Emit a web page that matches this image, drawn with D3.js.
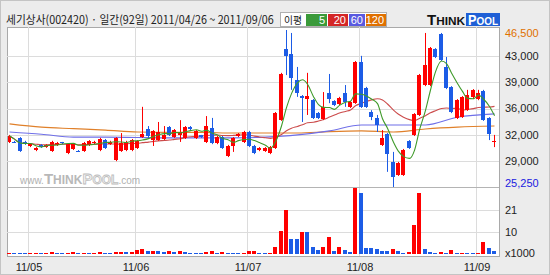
<!DOCTYPE html>
<html>
<head>
<meta charset="utf-8">
<script src="https://cdn.jsdelivr.net/npm/d3@7"></script>
<style>
html, body { margin: 0; padding: 0; background: #ececec; }
svg { display: block; font-family: "Liberation Sans", Arial, sans-serif; }
</style>
</head>
<body>
<svg id="chart" width="550" height="275"></svg>
<script>
var title = "세기상사(002420) · 일간(92일) 2011/04/26 ~ 2011/09/06";

// daily candles, 2011/04/26 .. 2011/09/06 (92 trading days)
var openP = [31350,31400,31900,31350,30800,30250,30950,30650,30100,30950,
    31300,29850,30400,30150,30100,30950,31150,30250,31600,31050,
    28900,30100,30250,30250,30550,32000,33100,31600,31600,31750,
    33350,32000,32300,31900,33350,31900,32250,31350,33250,31200,
    32000,29450,30800,32150,31350,32700,30800,30250,30100,29850,
    30550,34300,43950,43250,39750,37550,37150,37000,35250,34450,
    37950,36900,36500,37950,36100,36600,42150,38650,35400,34600,
    30950,32400,28650,26850,26850,31500,32300,35000,39050,39050,
    43950,45950,41500,38800,34600,34700,35650,37450,37150,38250,
    34600,31350];
var highP = [32300,31500,32000,31500,31200,30650,31050,31050,31500,31350,
    31350,31200,31200,30250,31350,31600,31500,31900,31750,31500,
    32000,32550,31500,31750,31600,36100,33500,32950,34050,33500,
    33500,33100,34300,33500,33500,32950,32300,34850,34600,32150,
    32150,30950,32000,32550,32850,32850,30950,30650,30650,30800,
    35400,40700,46500,46100,41500,37700,40700,37150,35400,38100,
    40550,37000,37450,39050,36900,42300,43000,38800,35650,35000,
    32950,32550,30000,28650,30400,31600,35250,40550,46100,44200,
    44050,46100,42850,38900,37150,37550,38400,38500,38400,38400,
    34700,32300];
var lowP = [31200,31200,30000,30950,30650,30100,30550,30550,30000,30800,
    31050,29700,30250,30000,30000,30800,31050,30100,30400,30950,
    28750,30000,30100,30100,30400,31900,31900,30800,31500,31600,
    32150,31900,31350,31750,32950,31750,31900,31200,31050,31050,
    30400,29300,30000,32000,31200,30650,29700,30100,30000,29700,
    30400,34200,40400,38400,37450,34050,35000,34450,34450,34300,
    36600,36200,36350,36100,35950,36500,35950,35950,34300,32700,
    30800,27300,25250,26750,26750,30400,32150,34850,38900,38900,
    42700,42300,38500,35250,34450,34600,35550,37150,37000,34200,
    31600,30650];
var closeP = [32150,31300,30100,31050,31050,30550,30650,30950,31350,31200,
    31150,31050,31050,30050,31200,31500,31350,31750,30550,31350,
    31900,31200,31350,31600,31500,32400,32150,32850,32700,32300,
    32300,32950,32700,33350,33100,32850,31950,33500,31200,32000,
    30550,30800,31900,32400,32700,30800,29850,30550,30550,30650,
    35250,40550,43000,40000,37950,37300,37550,34600,34600,36100,
    37150,36350,37300,36750,36750,42150,36100,36100,34700,33650,
    31900,29700,26600,28500,30250,30550,35150,40400,41750,44050,
    42850,42450,38650,35400,37000,37450,37700,38400,37950,34300,
    32400,31500];
// volume, x1000 shares
var volume = [0.5,0.45,0.4,0.35,0.4,0.45,0.4,0.5,0.8,0.5,
    0.4,0.7,0.8,0.4,0.5,0.45,0.5,0.8,0.7,0.6,
    1.0,1.1,0.8,1.0,2.0,2.6,1.2,1.6,1.4,0.8,
    1.2,0.8,1.2,0.8,0.7,0.6,0.5,1.0,1.2,0.6,
    0.8,0.5,0.45,0.4,0.5,1.2,1.5,0.4,0.35,0.5,
    3.5,11.1,21.0,7.3,7.2,10.4,10.3,3.5,1.9,3.5,
    8.3,1.4,3.2,1.9,1.0,31.5,29.0,2.8,2.7,2.6,
    1.4,1.35,2.2,1.4,0.5,0.8,13.8,29.3,2.2,1.0,
    0.5,1.0,0.7,1.9,0.5,0.55,0.5,0.45,0.5,5.6,
    2.7,1.4];

// long moving averages at a few days
var maIdx = [0,6,12,18,24,30,36,42,48,54,60,66,72,78,84,91];
var ma60 = [32700,32400,32000,32000,31950,31900,31900,31900,32000,32300,32850,33650,33650,33650,34700,35150];
var ma120 = [33800,33350,33150,32950,32700,32650,32650,32550,32550,32550,32750,32850,32700,33100,33350,33500];

var monthLabels = ["11/05", "11/06", "11/07", "11/08", "11/09"];
var monthStart = [4, 24, 45, 66, 88];
var priceLabels = ["25,250", "29,000", "32,000", "36,000", "39,000", "43,000", "46,500"];
var priceMin = 25250, priceMax = 46500;
var volLabels = ["10", "21"];
var volMax = 31.5;

var n = closeP.length;
var svg = d3.select("#chart");
var RED = "#ff0000", BLUE = "#1c5ce6";

// background + frame
svg.append("rect").attr("x", 0.5).attr("y", 0.5).attr("width", 549).attr("height", 274)
    .attr("fill", "#ececec").attr("stroke", "#c4c4c4");

var panelL = 7, panelR = 499, panelT = 27, panelMid = 187, panelB = 256;

svg.append("rect").attr("x", panelL + 0.5).attr("y", panelT + 0.5)
    .attr("width", panelR - panelL).attr("height", panelB - panelT)
    .attr("fill", "#fff").attr("stroke", "#a9a9a9");

// scales
var x = d3.scaleBand().domain(d3.range(n)).range([panelL, 497]);
var y = d3.scaleLinear().domain([priceMin, priceMax]).range([panelMid, 30]);
var yv = d3.scaleLinear().domain([0, volMax]).range([254, 188]);
function xc(i) { return Math.floor(x(i) + x.bandwidth() / 2); }

var grid = svg.append("g").attr("stroke", "#dcdcdc").attr("shape-rendering", "crispEdges");
// price grid: six equal parts of the range
var pStep = (priceMax - priceMin) / 6;
for (var k = 1; k < 6; k++) {
    var gy = Math.round(y(priceMin + k * pStep)) + 0.5;
    grid.append("line").attr("x1", panelL).attr("x2", panelR).attr("y1", gy).attr("y2", gy);
}
[volMax / 3, volMax * 2 / 3].forEach(function (v) {
    var gy = Math.round(yv(v)) + 0.5;
    grid.append("line").attr("x1", panelL).attr("x2", panelR).attr("y1", gy).attr("y2", gy);
});
monthStart.forEach(function (i) {
    var gx = xc(i) - 2 + 0.5;
    grid.append("line").attr("x1", gx).attr("x2", gx).attr("y1", panelT).attr("y2", panelB);
});

svg.append("line").attr("x1", panelL).attr("x2", panelR).attr("y1", panelMid + 0.5).attr("y2", panelMid + 0.5)
    .attr("stroke", "#b4b4b4").attr("shape-rendering", "crispEdges");

// watermark
var wm = svg.append("text").attr("x", 20).attr("y", 184).attr("font-weight", "bold");
wm.append("tspan").attr("font-size", 10).attr("font-weight", "normal").attr("fill", "#b0b0b0").text("www.");
wm.append("tspan").attr("font-size", 15).attr("fill", "#b8b8b8").text("T");
wm.append("tspan").attr("font-size", 12).attr("fill", "#b8b8b8").text("HINK");
wm.append("tspan").attr("font-size", 15).attr("fill", "#f4f4f4").attr("stroke", "#bdbdbd").attr("stroke-width", 0.8).text("P");
wm.append("tspan").attr("font-size", 12).attr("fill", "#f4f4f4").attr("stroke", "#bdbdbd").attr("stroke-width", 0.8).text("OOL");
wm.append("tspan").attr("font-size", 10).attr("font-weight", "normal").attr("fill", "#b0b0b0").text(".com");

// clip for the price panel
svg.append("clipPath").attr("id", "pclip").append("rect")
    .attr("x", panelL + 1).attr("y", panelT + 1).attr("width", panelR - panelL - 1).attr("height", panelMid - panelT);

var price = svg.append("g").attr("clip-path", "url(#pclip)");

function ma(len) {
    return closeP.map(function (c, i) {
        return d3.mean(closeP.slice(Math.max(0, i - len + 1), i + 1));
    });
}
var ma5 = ma(5), ma20 = ma(20);

var maLine = d3.line().curve(d3.curveMonotoneX)
    .x(function (d) { return xc(d[0]) + 0.5; }).y(function (d) { return y(d[1]); });

function drawLine(pts, color) {
    price.append("path").datum(pts).attr("d", maLine)
        .attr("fill", "none").attr("stroke", color).attr("stroke-width", 1.1);
}
drawLine(maIdx.map(function (i, k) { return [i, ma120[k]]; }), "#e0802a");
drawLine(maIdx.map(function (i, k) { return [i, ma60[k]]; }), "#6f6fe8");
drawLine(ma20.map(function (v, i) { return [i, v]; }), "#cc4c4c");

// candles
var days = d3.range(n);
function candleColor(i) { return closeP[i] >= openP[i] ? RED : BLUE; }
price.selectAll("line.wick").data(days).join("line")
    .attr("class", "wick")
    .attr("x1", function (i) { return xc(i) + 0.5; })
    .attr("x2", function (i) { return xc(i) + 0.5; })
    .attr("y1", function (i) { return y(highP[i]); })
    .attr("y2", function (i) { return y(lowP[i]); })
    .attr("stroke", candleColor).attr("stroke-width", 1);
price.selectAll("rect.body").data(days).join("rect")
    .attr("class", "body")
    .attr("x", function (i) { return xc(i) - 2; })
    .attr("width", 4)
    .attr("y", function (i) { return Math.round(y(Math.max(openP[i], closeP[i]))); })
    .attr("height", function (i) {
        return Math.max(1, Math.round(y(Math.min(openP[i], closeP[i]))) - Math.round(y(Math.max(openP[i], closeP[i]))));
    })
    .attr("fill", candleColor);

drawLine(ma5.map(function (v, i) { return [i, v]; }), "#3f9a2a");

// volume bars: red when volume rose from the day before
function volColor(i) {
    if (i === 0) return RED;
    return volume[i] > volume[i - 1] ? RED : BLUE;
}
svg.append("g").selectAll("rect").data(days).join("rect")
    .attr("x", function (i) { return xc(i) - 2; })
    .attr("width", 4)
    .attr("y", function (i) { return Math.round(yv(volume[i])); })
    .attr("height", function (i) { return Math.max(1, 254 - Math.round(yv(volume[i]))); })
    .attr("fill", volColor);

// right axis labels
var axis = svg.append("g").attr("font-size", 11).attr("fill", "#222");
priceLabels.forEach(function (t, k) {
    var ly = Math.min(183, Math.max(33, y(priceMin + k * pStep)));
    var col = k === 6 ? "#e07000" : (k === 0 ? "#1a1ae0" : "#222");
    axis.append("text").attr("x", 505).attr("y", ly).attr("dy", "0.36em").attr("fill", col).text(t);
});
volLabels.forEach(function (t, k) {
    axis.append("text").attr("x", 505).attr("y", yv(volMax * (k + 1) / 3)).attr("dy", "0.36em").text(t);
});
axis.append("text").attr("x", 505).attr("y", 253).attr("dy", "0.36em").text("x1000");

// month labels
monthLabels.forEach(function (t, k) {
    axis.append("text").attr("x", xc(monthStart[k]) - 1).attr("y", 267).attr("dy", "0.36em")
        .attr("text-anchor", "middle").text(t);
});

// title, squeezed to the width it takes in the original
var tt = svg.append("text").attr("font-family", "'Noto Sans CJK KR', sans-serif")
    .attr("font-size", 11.5).attr("fill", "#222").text(title);
var tw = tt.node().getComputedTextLength();
tt.attr("transform", "translate(6,24) scale(" + (268 / tw) + ",1)");

// legend of moving averages
var lg = svg.append("g").attr("font-size", 11);
lg.append("rect").attr("x", 280.5).attr("y", 12.5).attr("width", 106).attr("height", 14)
    .attr("fill", "#fff").attr("stroke", "#b0b0b0");
var lgt = lg.append("text").attr("font-family", "'Noto Sans CJK KR', sans-serif").attr("font-size", 10.5)
    .attr("fill", "#222").text("이평");
lgt.attr("transform", "translate(284,24) scale(" + (18 / lgt.node().getComputedTextLength()) + ",1)");
var maKeys = [["5", "#3a9a3a", 306, 21], ["20", "#d42626", 328, 20], ["60", "#5a5ae0", 349, 16], ["120", "#e07000", 366, 20]];
maKeys.forEach(function (m) {
    lg.append("rect").attr("x", m[2]).attr("y", 14).attr("width", m[3]).attr("height", 12).attr("fill", m[1]);
    lg.append("text").attr("x", m[2] + m[3] - 2).attr("y", 20).attr("dy", "0.36em")
        .attr("text-anchor", "end").attr("fill", "#fff").text(m[0]);
});

// logo
var logo = svg.append("g").attr("font-weight", "bold");
logo.append("rect").attr("x", 466).attr("y", 13).attr("width", 34).attr("height", 13).attr("fill", "#1f5fd6");
var lt = logo.append("text").attr("x", 427).attr("y", 25).attr("fill", "#111")
    .attr("textLength", 38).attr("lengthAdjust", "spacingAndGlyphs");
lt.append("tspan").attr("font-size", 14).text("T");
lt.append("tspan").attr("font-size", 11).text("HINK");
var lp = logo.append("text").attr("x", 468).attr("y", 25).attr("fill", "#fff")
    .attr("textLength", 30).attr("lengthAdjust", "spacingAndGlyphs");
lp.append("tspan").attr("font-size", 14).text("P");
lp.append("tspan").attr("font-size", 11).text("OOL");
</script>
</body>
</html>
